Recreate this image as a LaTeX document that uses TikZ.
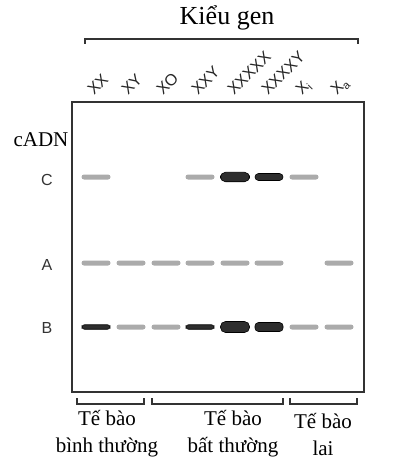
\documentclass[tikz,border=0pt]{standalone}
\usepackage{fontspec}
\setmainfont{Liberation Serif}
\setsansfont{Liberation Sans}
\begin{document}
\begin{tikzpicture}[x=1pt,y=-1pt,
  bandlight/.style={fill=black!33, draw=none, rounded corners=2.5pt, minimum width=29pt, minimum height=5pt, inner sep=0pt},
  banddark/.style={fill=black!82, draw=black, line width=0.6pt, rounded corners=2.5pt, minimum width=28pt, minimum height=4.5pt, inner sep=0pt},
  bandmid/.style={fill=black!82, draw=black, line width=0.6pt, rounded corners=3.5pt, minimum width=28pt, minimum height=8pt, inner sep=0pt},
  bandbig/.style={fill=black!82, draw=black, line width=0.6pt, rounded corners=5pt, minimum width=29pt, minimum height=11pt, inner sep=0pt},
  geno/.style={font=\sffamily\fontsize{16}{16}\selectfont, anchor=base west, rotate=45, inner sep=0pt, text=black!85},
  rowlab/.style={font=\sffamily\fontsize{16}{16}\selectfont, text=black!80},
  grp/.style={font=\fontsize{21}{27}\selectfont, align=center, inner sep=0pt},
  brk/.style={draw=black!80, line width=1.3pt}
]
\useasboundingbox (0,0) rectangle (400,457);
% gel box
\node[draw=black!80, line width=1.5pt, minimum width=292pt, minimum height=290pt, inner sep=0pt] (gel) at (218,247) {};
% title and bracket
\node[font=\fontsize{26}{26}\selectfont] (title) at (227,18) {Kiểu gen};
\draw[brk] (85,44) -- (85,39) -- (358,39) -- (358,44);
% genotype labels
\node[geno] (g1) at (94,96) {XX};
\node[geno] (g2) at (128,96) {XY};
\node[geno] (g3) at (163,96) {XO};
\node[geno] (g4) at (198,96) {XXY};
\node[geno] (g5) at (234,96) {XXXXX};
\node[geno] (g6) at (268,96) {XXXXY};
\node[geno] (g7) at (302,96) {X\textsubscript{i}};
\node[geno] (g8) at (337,96) {X\textsubscript{a}};
% row labels
\node[font=\fontsize{21}{21}\selectfont] (cadn) at (41,140) {cADN};
\node[rowlab] (rc) at (47,180) {C};
\node[rowlab] (ra) at (47,265) {A};
\node[rowlab] (rb) at (47,328) {B};
% row C
\node[bandlight] (c1) at (96,177) {};
\node[bandlight] (c4) at (200,177) {};
\node[bandbig, minimum height=9.5pt] (c5) at (235,177) {};
\node[bandmid, minimum height=7pt] (c6) at (269,177) {};
\node[bandlight] (c7) at (304,177) {};
% row A
\node[bandlight] (a1) at (96,263) {};
\node[bandlight] (a2) at (131,263) {};
\node[bandlight] (a3) at (166,263) {};
\node[bandlight] (a4) at (200,263) {};
\node[bandlight] (a5) at (235,263) {};
\node[bandlight] (a6) at (269,263) {};
\node[bandlight] (a8) at (339,263) {};
% row B
\node[banddark] (b1) at (96,327) {};
\node[bandlight] (b2) at (131,327) {};
\node[bandlight] (b3) at (166,327) {};
\node[banddark] (b4) at (200,327) {};
\node[bandbig] (b5) at (235,327) {};
\node[bandmid, minimum height=9pt] (b6) at (269,327) {};
\node[bandlight] (b7) at (304,327) {};
\node[bandlight] (b8) at (339,327) {};
% bottom brackets
\draw[brk] (77,398) -- (77,404) -- (144,404) -- (144,398);
\draw[brk] (152,398) -- (152,404) -- (283,404) -- (283,398);
\draw[brk] (290,398) -- (290,404) -- (357,404) -- (357,398);
\node[grp] (n1) at (107,434) {Tế bào\\bình thường};
\node[grp] (n2) at (233,434) {Tế bào\\bất thường};
\node[grp] (n3) at (323,434) {Tế bào\\lai};
\end{tikzpicture}
\end{document}
